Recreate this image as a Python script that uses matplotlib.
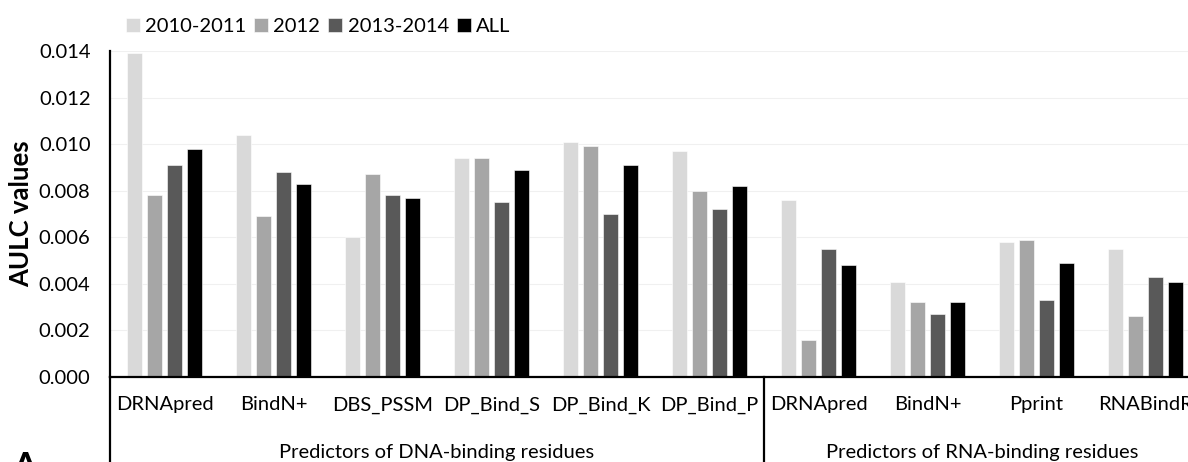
import numpy as np
import matplotlib
matplotlib.use("Agg")
import matplotlib.pyplot as plt

plt.rcParams['font.family'] = ['Lato', 'DejaVu Sans']

# predictors (DNA group first, then RNA group)
predictors = ["DRNApred", "BindN+", "DBS_PSSM", "DP_Bind_S", "DP_Bind_K", "DP_Bind_P",
              "DRNApred", "BindN+", "Pprint", "RNABindR"]
groups = ["Predictors of DNA-binding residues", "Predictors of RNA-binding residues"]
group_sizes = [6, 4]

periods = ["2010-2011", "2012", "2013-2014", "ALL"]
colors = ["#d9d9d9", "#a6a6a6", "#595959", "#000000"]

# AULC per period
aulc_2010_2011 = [0.0139, 0.0104, 0.0060, 0.0094, 0.0101, 0.0097, 0.0076, 0.0041, 0.0058, 0.0055]
aulc_2012      = [0.0078, 0.0069, 0.0087, 0.0094, 0.0099, 0.0080, 0.0016, 0.0032, 0.0059, 0.0026]
aulc_2013_2014 = [0.0091, 0.0088, 0.0078, 0.0075, 0.0070, 0.0072, 0.0055, 0.0027, 0.0033, 0.0043]
aulc_all       = [0.0098, 0.0083, 0.0077, 0.0089, 0.0091, 0.0082, 0.0048, 0.0032, 0.0049, 0.0041]
series = [aulc_2010_2011, aulc_2012, aulc_2013_2014, aulc_all]

FS = 14.5
W, H = 1188, 462
fig = plt.figure(figsize=(W / 100, H / 100), dpi=100)
# plot area runs past the right edge, so the last label gets cut
ax = fig.add_axes([110 / W, 1 - 377 / H, 1090 / W, 326 / H])

x = np.arange(len(predictors)) + 0.5
step = 20 / 109
bw = 15 / 109
for k, (vals, c) in enumerate(zip(series, colors)):
    ax.bar(x + (k - 1.5) * step, vals, width=bw, color=c, edgecolor="white",
           linewidth=0.4, label=periods[k], zorder=2)

ax.set_xlim(0, len(predictors))
ax.set_ylim(0, 0.014)
yt = np.arange(0, 0.0141, 0.002)
ax.set_yticks(yt)
ax.set_yticklabels([f"{v:.3f}" for v in yt])
ax.yaxis.grid(True, color="#f0f0f0", linewidth=0.8, zorder=0)
ax.set_axisbelow(True)

ax.set_xticks(x)
ax.set_xticklabels(predictors)
ax.tick_params(axis="both", length=0, labelsize=FS)
ax.tick_params(axis="x", pad=14)
ax.tick_params(axis="y", pad=14)

for s in ["top", "right"]:
    ax.spines[s].set_visible(False)
ax.spines["left"].set_linewidth(1.6)
ax.spines["bottom"].set_linewidth(1.6)

ax.set_ylabel("AULC values", fontsize=18.5, fontweight="bold", labelpad=4)

# group separators and group labels below the category labels
start = 0
for g, n in zip(groups, group_sizes):
    ax.plot([start, start], [0, -0.3], transform=ax.get_xaxis_transform(),
            color="black", linewidth=1.6, clip_on=False)
    ax.text(start + n / 2, -0.232, g, transform=ax.get_xaxis_transform(),
            ha="center", va="center", fontsize=FS)
    start += n

# legend across the top
ax.legend(loc="center left", bbox_to_anchor=(16 / 1090, 1.075), ncol=4, frameon=False,
          fontsize=FS, handlelength=0.7, handleheight=0.7, handletextpad=0.25,
          columnspacing=0.4, borderaxespad=0, borderpad=0)

# panel letter, mostly below the bottom edge
fig.text(12 / W, -22 / H, "A", fontsize=26, fontweight="bold", va="bottom")

fig.savefig("out.png", dpi=100)
